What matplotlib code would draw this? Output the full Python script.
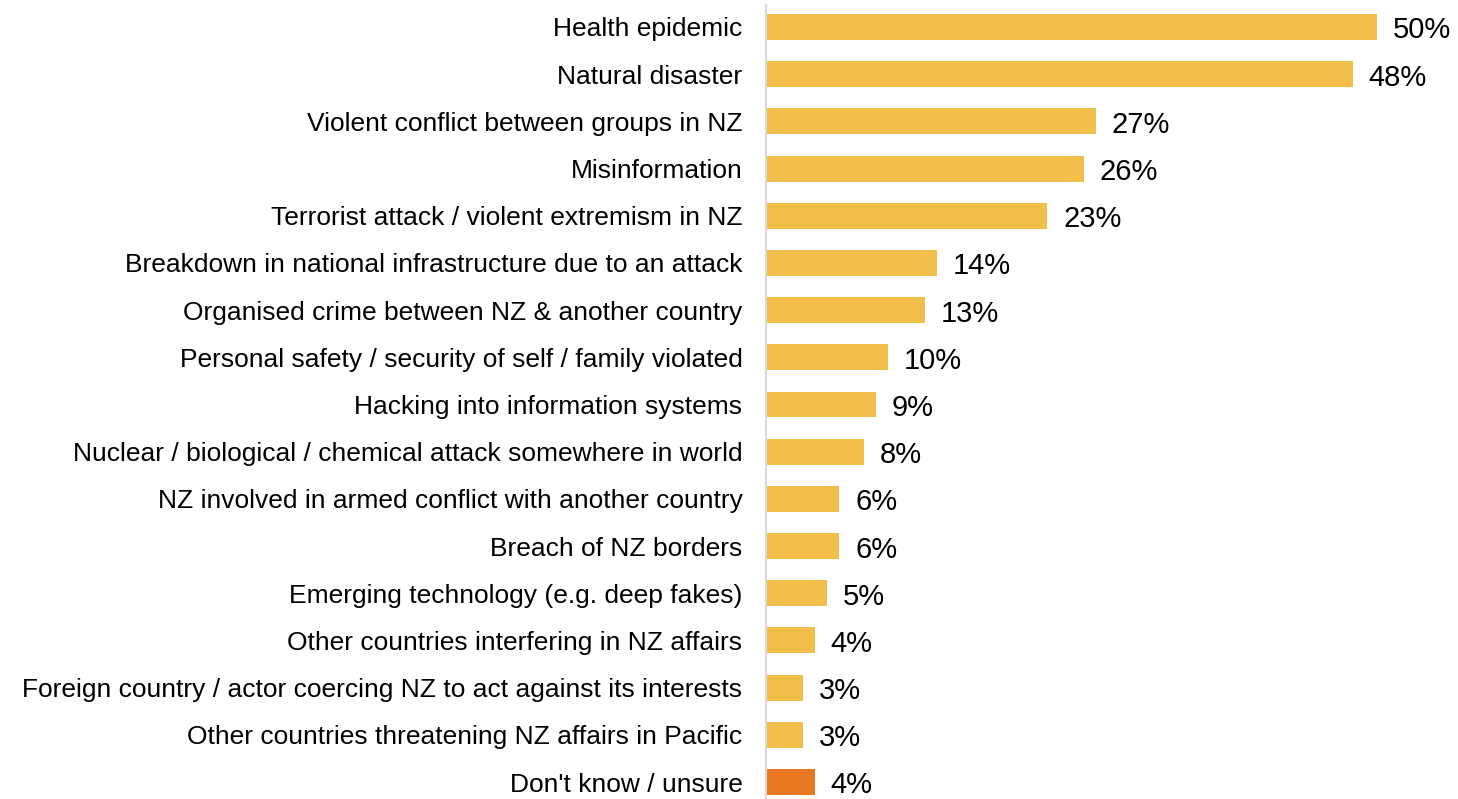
import matplotlib.pyplot as plt

# data
categories = [
    'Health epidemic',
    'Natural disaster',
    'Violent conflict between groups in NZ',
    'Misinformation',
    'Terrorist attack / violent extremism in NZ',
    'Breakdown in national infrastructure due to an attack',
    'Organised crime between NZ & another country',
    'Personal safety / security of self / family violated',
    'Hacking into information systems',
    'Nuclear / biological / chemical attack somewhere in world',
    'NZ involved in armed conflict with another country',
    'Breach of NZ borders',
    'Emerging technology (e.g. deep fakes)',
    'Other countries interfering in NZ affairs',
    'Foreign country / actor coercing NZ to act against its interests',
    'Other countries threatening NZ affairs in Pacific',
    "Don't know / unsure",
]
values = [50, 48, 27, 26, 23, 14, 13, 10, 9, 8, 6, 6, 5, 4, 3, 3, 4]
yellow = '#F2BE4A'
orange = '#E87722'
colors = [yellow] * (len(values) - 1) + [orange]

plt.rcParams['font.family'] = ['Liberation Sans', 'DejaVu Sans']

fig = plt.figure(figsize=(14.58, 7.99), dpi=100)
ax = fig.add_axes([766 / 1458, 0, 1 - 766 / 1458, 1])

ypos = list(range(len(categories)))
ax.barh(ypos, values, height=0.55, color=colors)

# value labels, a bit under the bar centre like the original
for y, v in zip(ypos, values):
    ax.annotate(f'{v}%', (v, y), xytext=(11.5, -2.5), textcoords='offset points',
                va='center', ha='left', fontsize=21, color='#000000')

ax.set_yticks(ypos)
ax.set_yticklabels(categories, fontsize=19)
ax.tick_params(axis='y', length=0, pad=17)
ax.set_xticks([])
ax.set_xlim(0, (1458 - 766) / 12.22)
ax.set_ylim(16 + 17 / 47.19, -27 / 47.19)

for s in ['top', 'right', 'bottom']:
    ax.spines[s].set_visible(False)
ax.spines['left'].set_color('#D9D9D9')
ax.spines['left'].set_linewidth(1.5)
ax.spines['left'].set_bounds(16 + 17 / 47.19, -22 / 47.19)

fig.savefig('out.png', dpi=100)
